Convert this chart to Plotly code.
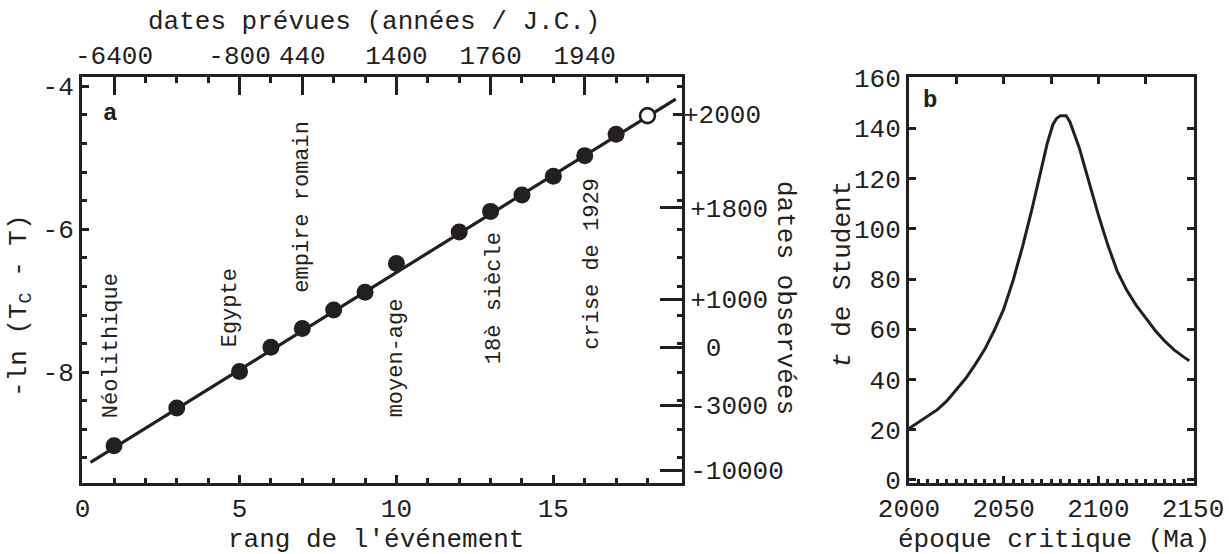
import plotly.graph_objects as go

# ---------------- data: panel a ----------------
rank_obs = [1, 3, 5, 6, 7, 8, 9, 10, 12, 13, 14, 15, 16, 17]
lnval_obs = [-9.03, -8.50, -7.99, -7.65, -7.39, -7.13, -6.88, -6.48, -6.04, -5.75, -5.52, -5.26, -4.97, -4.67]
rank_pred = [18]
lnval_pred = [-4.41]
fit_rank = [0.25, 18.9]
fit_lnval = [-9.26, -4.18]

event_names = ["Néolithique", "Egypte", "empire romain", "moyen-age", "18è siècle", "crise de 1929"]
event_rank = [0.92, 4.71, 7.0, 10.0, 13.15, 16.24]
event_lnval = [-7.63, -7.10, -5.68, -7.80, -6.96, -6.48]

left_tickvals = [-4, -6, -8]
left_ticktext = ["-4", "-6", "-8"]
bottom_tickvals = [0, 5, 10, 15]
top_tickvals = [1, 5, 7, 10, 13, 16]
top_ticktext = ["-6400", "-800", "440", "1400", "1760", "1940"]
right_tickvals = [-5.70, -6.98, -7.65, -8.46, -9.37]
right_ticktext = ["+1800", "+1000", "\u00a00", "-3000", "-10000"]
right_tickval_2000 = [-4.39]
right_ticktext_2000 = ["+2000"]

# ---------------- data: panel b ----------------
epoch = [2000, 2005, 2010, 2015, 2020, 2025, 2030, 2035, 2040, 2045, 2050, 2055, 2060,
         2065, 2070, 2073, 2076, 2078, 2080, 2083, 2085, 2088, 2090, 2093, 2096, 2100,
         2105, 2110, 2115, 2120, 2125, 2130, 2135, 2140, 2145, 2148]
t_student = [20.5, 23, 25.5, 28, 31.5, 36, 40.5, 46, 52, 59.5, 68, 79.5, 93,
             108, 125, 134, 141.5, 144, 145, 145, 142.5, 136.5, 132, 124, 116, 105.5,
             93.5, 83, 75.5, 69.5, 64.5, 59.5, 55.3, 51.8, 49, 47.5]
b_tickvals = [2000, 2050, 2100, 2150]
b_toptickvals = [2000, 2025, 2050, 2075, 2100, 2125, 2150]
b_yticks = [0, 20, 40, 60, 80, 100, 120, 140, 160]

FONT = "Liberation Mono"
INK = "#231f20"
W, H = 1229, 554

dom_ax = [82 / W, 682 / W]
dom_bx = [909 / W, 1194 / W]
dom_y = [1 - 483 / H, 1 - 77 / H]

rng_ax = [-0.02, 19.1]
rng_ay = [-9.55, -3.87]
rng_bx = [2000, 2150.5]
rng_by = [-1.2, 160.4]

minor_a_y = [round(-9.2 + 0.4 * i, 2) for i in range(14)]

fig = go.Figure()
fig.add_trace(go.Scatter(x=fit_rank, y=fit_lnval, mode="lines",
                         line=dict(color=INK, width=3.2), xaxis="x", yaxis="y",
                         showlegend=False, hoverinfo="skip"))
fig.add_trace(go.Scatter(x=rank_obs, y=lnval_obs, mode="markers",
                         marker=dict(size=17, color=INK, line=dict(width=0)),
                         xaxis="x", yaxis="y", showlegend=False))
fig.add_trace(go.Scatter(x=rank_pred, y=lnval_pred, mode="markers",
                         marker=dict(size=15, color="white", line=dict(color=INK, width=2.6)),
                         xaxis="x", yaxis="y", showlegend=False))
fig.add_trace(go.Scatter(x=epoch, y=t_student, mode="lines",
                         line=dict(color=INK, width=3), xaxis="x3", yaxis="y4",
                         showlegend=False))
# invisible carriers so that the secondary (overlay) axes get drawn
for xa, ya, xs, ys in [("x2", "y2", rank_obs, lnval_obs), ("x", "y3", rank_obs, lnval_obs),
                       ("x4", "y5", epoch, t_student)]:
    fig.add_trace(go.Scatter(x=xs, y=ys, mode="markers", marker=dict(opacity=0, size=1),
                             xaxis=xa, yaxis=ya, showlegend=False, hoverinfo="skip"))

tf = dict(family=FONT, size=26, color=INK)
common = dict(showgrid=False, zeroline=False, showline=True, linewidth=3, linecolor=INK,
              ticks="inside", tickcolor=INK, tickwidth=2.5, tickfont=tf, tickmode="array",
              automargin=False, fixedrange=True)

fig.update_layout(
    width=W, height=H, autosize=False,
    margin=dict(l=0, r=0, t=0, b=0, pad=0, autoexpand=False),
    paper_bgcolor="white", plot_bgcolor="white", showlegend=False,
    xaxis=dict(domain=dom_ax, anchor="y", range=rng_ax, tickvals=bottom_tickvals,
               ticklen=8, minor=dict(tickvals=list(range(1, 19)), ticks="inside", ticklen=5,
                                     tickwidth=2.5, tickcolor=INK, showgrid=False), **common),
    xaxis2=dict(overlaying="x", anchor="y", side="top", range=rng_ax, tickvals=top_tickvals,
                ticktext=top_ticktext, ticklen=18,
                minor=dict(tickvals=list(range(1, 19)), ticks="inside", ticklen=6,
                           tickwidth=2.5, tickcolor=INK, showgrid=False), **common),
    yaxis=dict(domain=dom_y, anchor="x", range=rng_ay, tickvals=left_tickvals,
               ticktext=left_ticktext, ticklen=7,
               minor=dict(tickvals=minor_a_y, ticks="inside", ticklen=5, tickwidth=2.5,
                          tickcolor=INK, showgrid=False), **common),
    yaxis2=dict(overlaying="y", anchor="x", side="right", range=rng_ay, tickvals=right_tickvals,
                ticktext=right_ticktext, ticklen=22,
                minor=dict(tickvals=minor_a_y, ticks="inside", ticklen=5, tickwidth=2.5,
                           tickcolor=INK, showgrid=False), **common),
    yaxis3=dict(overlaying="y", anchor="x", side="right", range=rng_ay,
                tickvals=right_tickval_2000, ticktext=right_ticktext_2000, ticklen=9,
                **{**common, "showline": False}),
    xaxis3=dict(domain=dom_bx, anchor="y4", range=rng_bx, tickvals=b_tickvals, ticklen=7,
                minor=dict(tickvals=list(range(2005, 2150, 5)), ticks="inside", ticklen=4,
                           tickwidth=2.5, tickcolor=INK, showgrid=False), **common),
    xaxis4=dict(overlaying="x3", anchor="y4", side="top", range=rng_bx, tickvals=b_toptickvals,
                showticklabels=False, ticklen=7, **common),
    yaxis4=dict(domain=dom_y, anchor="x3", range=rng_by, tickvals=b_yticks, ticklen=7, **common),
    yaxis5=dict(overlaying="y4", anchor="x3", side="right", range=rng_by, tickvals=b_yticks,
                showticklabels=False, ticklen=7, **common),
)

ann = []
lf = dict(family=FONT, size=22, color=INK)
for name, xr, yv in zip(event_names, event_rank, event_lnval):
    ann.append(dict(x=xr, y=yv, xref="x", yref="y", text=name, showarrow=False,
                    textangle=-90, font=lf, xanchor="center", yanchor="middle"))

def pann(text, px, py, angle=0, size=26, bold=False):
    t = "<b>" + text + "</b>" if bold else text
    return dict(x=px / W, y=1 - py / H, xref="paper", yref="paper", text=t, showarrow=False,
                textangle=angle, font=dict(family=FONT, size=size, color=INK),
                xanchor="center", yanchor="middle")

ann += [
    pann("dates prévues (années / J.C.)", 374, 22),
    pann("rang de l'événement", 376, 540),
    pann("-ln (T<sub>C</sub> - T)", 20, 306, angle=-90),
    pann("dates observées", 785, 298, angle=90),
    pann("époque critique (Ma)", 1054, 540),
    pann("<i>t</i> de Student", 843, 275, angle=-90),
    pann("a", 110, 113, size=24, bold=True),
    pann("b", 930, 100, size=24, bold=True),
]
fig.update_layout(annotations=ann)

fig.write_html("out.html", config={"displayModeBar": False},
               post_script="document.body.style.margin='0px';document.body.style.overflow='hidden';")
